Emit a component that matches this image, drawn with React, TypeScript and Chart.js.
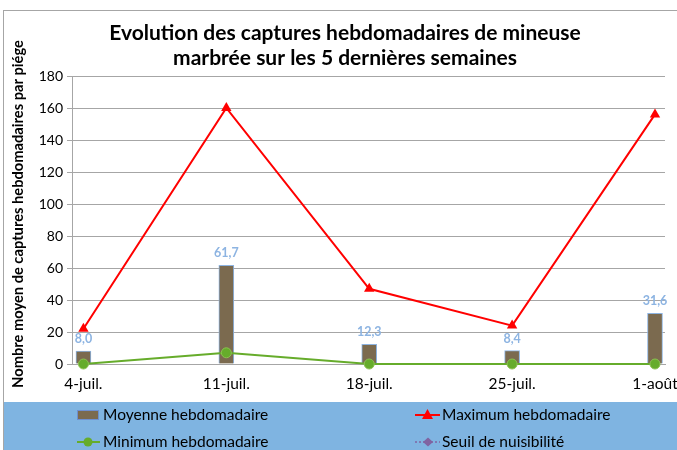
import React, { useEffect, useRef } from 'react';
import { Chart, registerables } from 'chart.js';

Chart.register(...registerables);

const categories = ['4-juil.', '11-juil.', '18-juil.', '25-juil.', '1-août'];
const moyenne = [8.0, 61.7, 12.3, 8.4, 31.6];
const maximum = [22, 160, 47, 24, 156];
const minimum = [0, 7, 0, 0, 0];
const seuil: (number | null)[] = [null, null, null, null, null];
const yTickValues = [0, 20, 40, 60, 80, 100, 120, 140, 160, 180];
const titleLines = ['Evolution des captures hebdomadaires de mineuse', 'marbrée sur les 5 dernières semaines'];
const yTitle = 'Nombre moyen de captures hebdomadaires par piége';
const legendLabels = ['Moyenne hebdomadaire', 'Maximum hebdomadaire', 'Minimum hebdomadaire', 'Seuil de nuisibilité'];

const FONT = 'Lato, "Liberation Sans", sans-serif';
const BROWN = '#7B6A4F';
const BAR_BORDER = '#8DB4E2';
const RED = '#FF0000';
const GREEN = '#66AC2B';
const PURPLE = '#8064A2';
const LABEL_BLUE = '#8DB4E2';
const BAND = '#7FB4E1';

const fmt = (v: number) => v.toFixed(1).replace('.', ',');

const decorPlugin = {
  id: 'decor',
  beforeDraw(chart: any) {
    const { ctx, width, height } = chart;
    ctx.save();
    ctx.fillStyle = '#ffffff';
    ctx.fillRect(0, 0, width, height);
    ctx.fillStyle = BAND;
    ctx.fillRect(4, 402, width - 4, height - 402);
    ctx.strokeStyle = '#A6A6A6';
    ctx.lineWidth = 1;
    ctx.strokeRect(3.5, 10.5, width + 10, height + 10);
    ctx.restore();
  },
  afterDraw(chart: any) {
    const { ctx } = chart;
    ctx.save();
    // title
    ctx.fillStyle = '#000';
    ctx.font = `bold 21px ${FONT}`;
    ctx.textAlign = 'center';
    ctx.textBaseline = 'middle';
    ctx.fillText(titleLines[0], 345, 33);
    ctx.fillText(titleLines[1], 345, 58);
    // y title
    ctx.save();
    ctx.translate(18, 214);
    ctx.rotate(-Math.PI / 2);
    ctx.font = `bold 14.7px ${FONT}`;
    ctx.fillText(yTitle, 0, 0);
    ctx.restore();
    // data labels
    const meta = chart.getDatasetMeta(0);
    ctx.font = `bold 12.5px ${FONT}`;
    ctx.fillStyle = LABEL_BLUE;
    meta.data.forEach((el: any, i: number) => {
      ctx.fillText(fmt(moyenne[i]), el.x, el.y - 12);
    });
    // legend
    ctx.textAlign = 'left';
    ctx.font = `15.5px ${FONT}`;
    const r1 = 415, r2 = 442;
    // Moyenne
    ctx.fillStyle = BROWN;
    ctx.fillRect(77, r1 - 5, 22, 10);
    ctx.strokeStyle = '#6E8FD0';
    ctx.lineWidth = 1;
    ctx.strokeRect(77.5, r1 - 4.5, 21, 9);
    ctx.fillStyle = '#000';
    ctx.fillText(legendLabels[0], 103, r1);
    // Maximum
    ctx.strokeStyle = RED;
    ctx.lineWidth = 2;
    ctx.beginPath();
    ctx.moveTo(415, r1);
    ctx.lineTo(440, r1);
    ctx.stroke();
    ctx.fillStyle = RED;
    ctx.beginPath();
    ctx.moveTo(427.5, r1 - 6);
    ctx.lineTo(433, r1 + 4);
    ctx.lineTo(422, r1 + 4);
    ctx.closePath();
    ctx.fill();
    ctx.fillStyle = '#000';
    ctx.fillText(legendLabels[1], 442, r1);
    // Minimum
    ctx.strokeStyle = GREEN;
    ctx.lineWidth = 2;
    ctx.beginPath();
    ctx.moveTo(77, r2);
    ctx.lineTo(100, r2);
    ctx.stroke();
    ctx.fillStyle = GREEN;
    ctx.beginPath();
    ctx.arc(88, r2, 4.5, 0, Math.PI * 2);
    ctx.fill();
    ctx.fillStyle = '#000';
    ctx.fillText(legendLabels[2], 103, r2);
    // Seuil
    ctx.strokeStyle = PURPLE;
    ctx.lineWidth = 1.5;
    ctx.setLineDash([2, 2]);
    ctx.beginPath();
    ctx.moveTo(415, r2);
    ctx.lineTo(440, r2);
    ctx.stroke();
    ctx.setLineDash([]);
    ctx.fillStyle = PURPLE;
    ctx.beginPath();
    ctx.moveTo(428, r2 - 4.5);
    ctx.lineTo(433, r2);
    ctx.lineTo(428, r2 + 4.5);
    ctx.lineTo(423, r2);
    ctx.closePath();
    ctx.fill();
    ctx.fillStyle = '#000';
    ctx.fillText(legendLabels[3], 442, r2);
    ctx.restore();
  },
};

export default function App() {
  const ref = useRef<HTMLCanvasElement | null>(null);
  useEffect(() => {
    if (!ref.current) return;
    const xs = categories.map((_, i) => i);
    const chart = new Chart(ref.current, {
      type: 'bar',
      data: {
        datasets: [
          {
            type: 'bar',
            label: legendLabels[0],
            data: xs.map((x, i) => ({ x, y: moyenne[i] })),
            backgroundColor: BROWN,
            borderColor: BAR_BORDER,
            borderWidth: 1,
            barThickness: 15,
            order: 3,
          } as any,
          {
            type: 'line',
            label: legendLabels[1],
            data: xs.map((x, i) => ({ x, y: maximum[i] })),
            borderColor: RED,
            backgroundColor: RED,
            borderWidth: 2,
            pointStyle: 'triangle',
            pointRadius: 6,
            pointBorderWidth: 0,
            tension: 0,
            clip: false,
            order: 1,
          },
          {
            type: 'line',
            label: legendLabels[2],
            data: xs.map((x, i) => ({ x, y: minimum[i] })),
            borderColor: GREEN,
            backgroundColor: GREEN,
            borderWidth: 2,
            pointStyle: 'circle',
            pointRadius: 5,
            pointBorderColor: '#8CC152',
            pointBorderWidth: 1,
            tension: 0,
            clip: false,
            order: 1,
          },
          {
            type: 'line',
            label: legendLabels[3],
            data: xs.map((x, i) => ({ x, y: seuil[i] })),
            borderColor: PURPLE,
            backgroundColor: PURPLE,
            borderDash: [2, 2],
            pointStyle: 'rectRot',
            order: 0,
          },
        ],
      },
      options: {
        responsive: false,
        animation: false,
        layout: { padding: { left: 0, right: 12, top: 76, bottom: 56 } },
        plugins: { legend: { display: false }, title: { display: false }, tooltip: { enabled: false } },
        scales: {
          x: {
            type: 'linear',
            min: -0.08,
            max: 4.07,
            offset: false,
            afterBuildTicks: (s: any) => {
              s.ticks = xs.map((v) => ({ value: v }));
            },
            afterFit: (s: any) => {
              s.height = 30;
              s.paddingLeft = 0;
              s.paddingRight = 0;
            },
            ticks: {
              callback: (v: any) => categories[Number(v)] ?? '',
              color: '#000',
              font: { family: FONT, size: 15.5 },
              maxRotation: 0,
              autoSkip: false,
              padding: 11,
            },
            grid: { display: false, drawTicks: false, offset: false },
            border: { display: true, color: '#A6A6A6' },
          },
          y: {
            min: 0,
            max: 180,
            afterBuildTicks: (s: any) => {
              s.ticks = yTickValues.map((v) => ({ value: v }));
            },
            afterFit: (s: any) => {
              s.width = 72;
              s.paddingTop = 0;
              s.paddingBottom = 0;
            },
            ticks: {
              color: '#000',
              font: { family: FONT, size: 14 },
              padding: 4,
            },
            grid: { color: '#A6A6A6', tickLength: 5, drawTicks: true },
            border: { display: true, color: '#A6A6A6' },
          },
        },
      },
      plugins: [decorPlugin],
    } as any);
    return () => chart.destroy();
  }, []);
  return (
    <div style={{ position: 'fixed', left: 0, top: 0, width: 677, height: 450 }}>
      <canvas ref={ref} width={677} height={450} style={{ display: 'block', width: 677, height: 450 }} />
    </div>
  );
}
